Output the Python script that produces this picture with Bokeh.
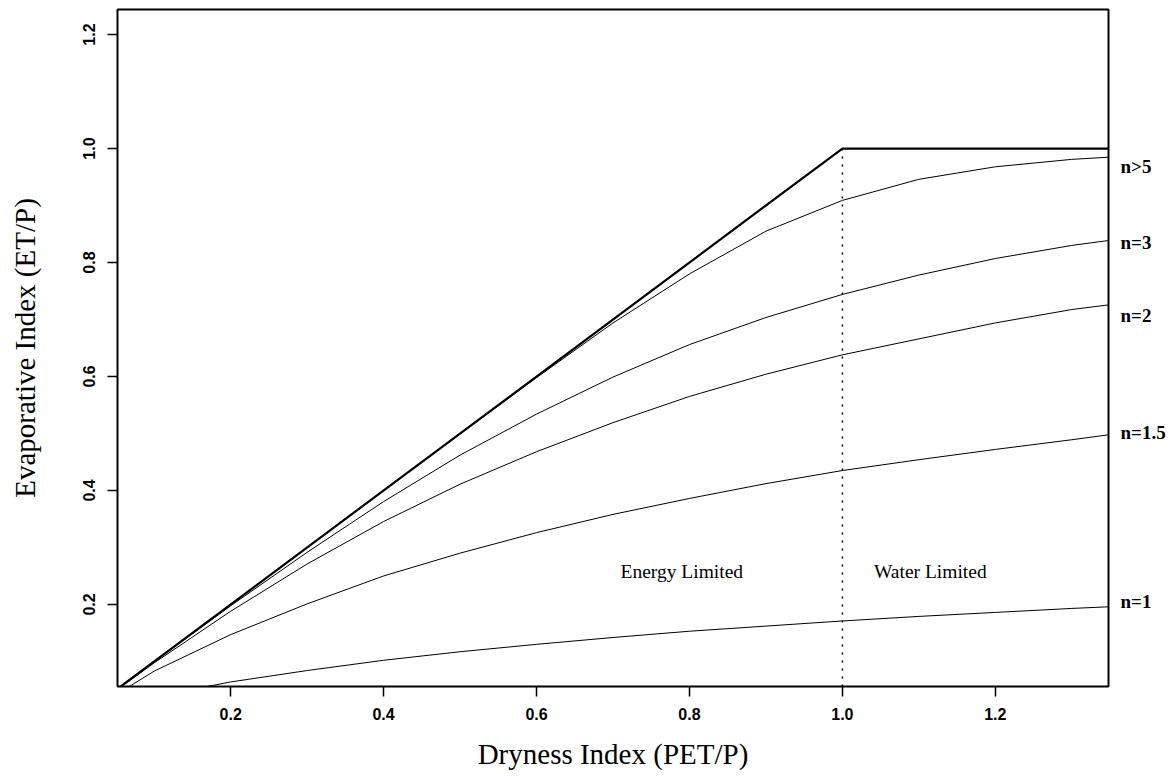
from bokeh.plotting import figure
from bokeh.models import Range1d, FixedTicker, Label, LinearAxis
from bokeh.embed import file_html
from bokeh.resources import INLINE

# Dryness index vertices
dryness = [0.0, 0.1, 0.2, 0.3, 0.4, 0.5, 0.6, 0.7, 0.8, 0.9, 1.0, 1.1, 1.2, 1.3, 1.35]

# Limit (energy / water) envelope
limit_x = [0.0, 1.0, 1.35]
limit_y = [0.0, 1.0, 1.0]

# Evaporative index curves
evap_n_gt5 = [0.0, 0.100, 0.200, 0.300, 0.400, 0.4995, 0.598, 0.694, 0.780, 0.855, 0.909, 0.946, 0.968, 0.981, 0.985]
evap_n3 = [0.0, 0.0997, 0.1976, 0.2915, 0.3805, 0.462, 0.534, 0.599, 0.656, 0.7035, 0.744, 0.778, 0.807, 0.830, 0.839]
evap_n2 = [0.0, 0.0975, 0.188, 0.271, 0.3455, 0.411, 0.468, 0.519, 0.565, 0.604, 0.638, 0.666, 0.694, 0.7175, 0.726]
evap_n15 = [0.0, 0.083, 0.147, 0.201, 0.250, 0.290, 0.326, 0.358, 0.386, 0.412, 0.435, 0.454, 0.472, 0.489, 0.498]
evap_n1 = [0.0, 0.038, 0.064, 0.084, 0.102, 0.117, 0.130, 0.142, 0.153, 0.162, 0.171, 0.179, 0.186, 0.193, 0.196]

curve_labels = ["n>5", "n=3", "n=2", "n=1.5", "n=1"]
curve_label_y = [0.969, 0.836, 0.7075, 0.501, 0.2046]

x_ticks = [0.2, 0.4, 0.6, 0.8, 1.0, 1.2]
x_tick_labels = ["0.2", "0.4", "0.6", "0.8", "1.0", "1.2"]
y_ticks = [0.2, 0.4, 0.6, 0.8, 1.0, 1.2]
y_tick_labels = ["0.2", "0.4", "0.6", "0.8", "1.0", "1.2"]

region_texts = ["Energy Limited", "Water Limited"]
region_x = [0.79, 1.115]
region_y = [0.257, 0.257]

SERIF = "Liberation Serif"
SANS = "Liberation Sans"

p = figure(width=1170, height=775,
           x_range=Range1d(0.052, 1.348), y_range=Range1d(0.056, 1.244),
           output_backend="svg", toolbar_location=None,
           min_border_left=117, min_border_right=62, min_border_top=9, min_border_bottom=89,
           x_axis_label="Dryness Index (PET/P)", y_axis_label="Evaporative Index (ET/P)")

p.background_fill_color = "white"
p.border_fill_color = "white"
p.outline_line_color = "black"
p.outline_line_width = 2
p.grid.visible = False

for ax, ticks, labels in ((p.xaxis[0], x_ticks, x_tick_labels), (p.yaxis[0], y_ticks, y_tick_labels)):
    ax.ticker = FixedTicker(ticks=ticks)
    ax.major_label_overrides = {t: l for t, l in zip(ticks, labels)}
    ax.axis_line_color = None
    ax.major_tick_out = 10
    ax.major_tick_in = 0
    ax.major_tick_line_width = 1.5
    ax.minor_tick_line_color = None
    ax.major_label_text_font = SANS
    ax.major_label_text_font_style = "bold"
    ax.major_label_text_font_size = "16px"
    ax.major_label_text_color = "black"
    ax.axis_label_text_font = SERIF
    ax.axis_label_text_font_style = "normal"
    ax.axis_label_text_font_size = "29px"
    ax.axis_label_text_color = "black"

p.xaxis[0].major_label_standoff = 11
p.xaxis[0].axis_label_standoff = 15
p.yaxis[0].major_label_standoff = 12
p.yaxis[0].axis_label_standoff = 40
p.yaxis[0].major_label_orientation = "vertical"

# curve names drawn as labels of a right-hand axis
right_axis = LinearAxis(ticker=FixedTicker(ticks=curve_label_y),
                        major_label_overrides={yy: t for yy, t in zip(curve_label_y, curve_labels)})
right_axis.axis_line_color = None
right_axis.major_tick_line_color = None
right_axis.minor_tick_line_color = None
right_axis.major_tick_out = 0
right_axis.major_tick_in = 0
right_axis.major_label_standoff = 12
right_axis.major_label_text_font = SERIF
right_axis.major_label_text_font_style = "bold"
right_axis.major_label_text_font_size = "19px"
right_axis.major_label_text_color = "black"
p.add_layout(right_axis, "right")

for ys in (evap_n_gt5, evap_n3, evap_n2, evap_n15, evap_n1):
    p.line(dryness, ys, line_color="black", line_width=1)

p.line(limit_x, limit_y, line_color="black", line_width=2.2)
p.line([1.0, 1.0], [0.0, 1.0], line_color="black", line_width=1.5, line_dash="2 6")

for t, xx, yy in zip(region_texts, region_x, region_y):
    p.add_layout(Label(x=xx, y=yy, text=t, text_font=SERIF, text_font_size="19.5px",
                       text_align="center", text_baseline="middle", text_color="black"))

open("out.html", "w").write(file_html(p, INLINE))
